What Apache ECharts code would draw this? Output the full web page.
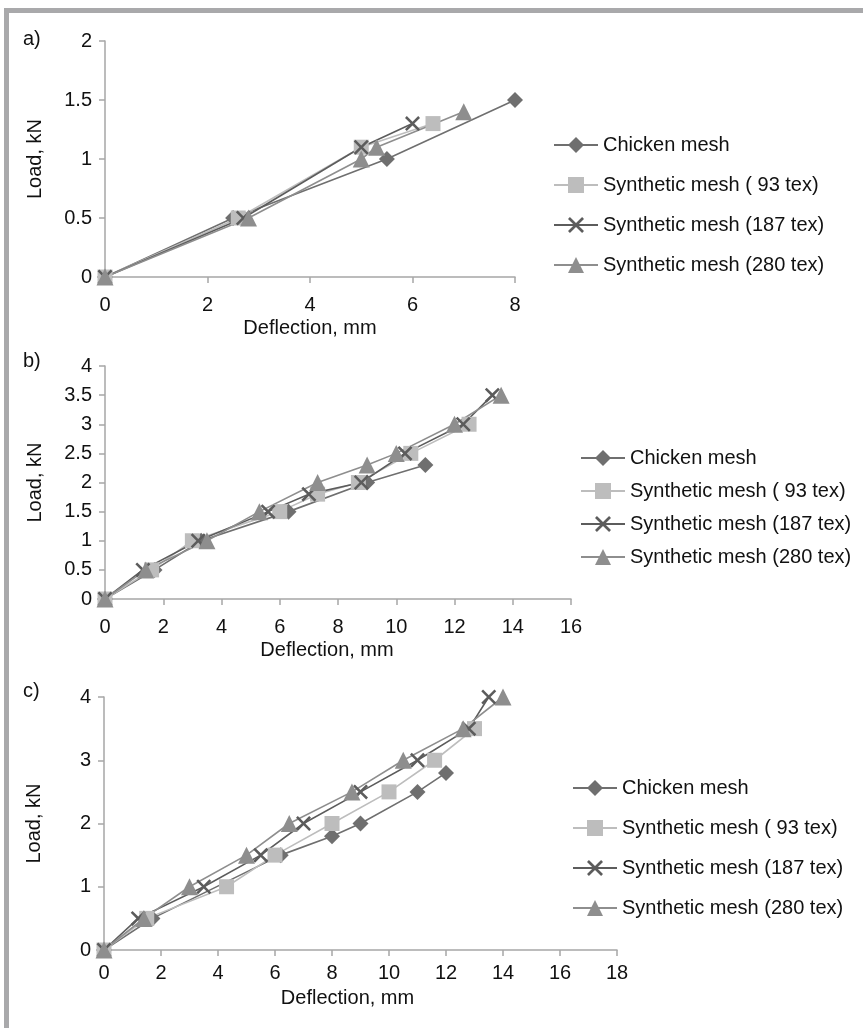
<!DOCTYPE html>
<html><head><meta charset="utf-8">
<script src="https://cdn.jsdelivr.net/npm/echarts@6/dist/echarts.min.js"></script>
<style>html,body{margin:0;padding:0;background:#fff}#c{width:863px;height:1028px}</style>
</head><body><div id="c"></div>
<script>
const seriesNames = ['Chicken mesh', 'Synthetic mesh ( 93 tex)', 'Synthetic mesh (187 tex)', 'Synthetic mesh (280 tex)'];
const panelLabels = ['a)', 'b)', 'c)'];
const xTitle = 'Deflection, mm';
const yTitle = 'Load, kN';

// panel a
const aChicken = [[0,0],[2.5,0.5],[5.5,1.0],[8,1.5]];
const aSyn93   = [[0,0],[2.6,0.5],[5,1.1],[6.4,1.3]];
const aSyn187  = [[0,0],[2.7,0.5],[5,1.1],[6,1.3]];
const aSyn280  = [[0,0],[2.8,0.5],[5,1.0],[5.3,1.1],[7,1.4]];
// panel b
const bChicken = [[0,0],[1.7,0.5],[3.3,1.0],[6.3,1.5],[9,2.0],[11,2.3]];
const bSyn93   = [[0,0],[1.6,0.5],[3,1.0],[6,1.5],[7.3,1.8],[8.7,2.0],[10.5,2.5],[12.5,3.0]];
const bSyn187  = [[0,0],[1.3,0.5],[3.2,1.0],[5.6,1.5],[7,1.8],[8.8,2.0],[10.3,2.5],[12.3,3.0],[13.3,3.5]];
const bSyn280  = [[0,0],[1.4,0.5],[3.5,1.0],[5.3,1.5],[7.3,2.0],[9,2.3],[10,2.5],[12,3.0],[13.6,3.5]];
// panel c
const cChicken = [[0,0],[1.7,0.5],[6.2,1.5],[8,1.8],[9,2.0],[11,2.5],[12,2.8]];
const cSyn93   = [[0,0],[1.5,0.5],[4.3,1.0],[6,1.5],[8,2.0],[10,2.5],[11.6,3.0],[13,3.5]];
const cSyn187  = [[0,0],[1.2,0.5],[3.5,1.0],[5.5,1.5],[7,2.0],[9,2.5],[11,3.0],[12.8,3.5],[13.5,4.0]];
const cSyn280  = [[0,0],[1.4,0.5],[3,1.0],[5,1.5],[6.5,2.0],[8.7,2.5],[10.5,3.0],[12.6,3.5],[14,4.0]];

const xRanges = [[0,8,2],[0,16,2],[0,18,2]];
const yRanges = [[0,2,0.5],[0,4,0.5],[0,4,1]];

const panelData = [
  [aChicken, aSyn93, aSyn187, aSyn280],
  [bChicken, bSyn93, bSyn187, bSyn280],
  [cChicken, cSyn93, cSyn187, cSyn280]
];

const FONT = '"Liberation Sans", Arial, sans-serif';
const colors = ['#6f6f6f', '#bdbdbd', '#5c5c5c', '#8e8e8e'];
const crossPath = 'path://M0,1.2L1.2,0L5,3.8L8.8,0L10,1.2L6.2,5L10,8.8L8.8,10L5,6.2L1.2,10L0,8.8L3.8,5Z';
const symbols = ['diamond', 'rect', crossPath, 'triangle'];
const symbolSizes = [16, 15, 15, 17];

const grids = [
  {left: 105, width: 410, top: 41, height: 236},
  {left: 105, width: 466, top: 366, height: 233},
  {left: 104, width: 513, top: 697, height: 253}
];
const xLabelMargin = [18, 18, 13];
const xNameGap = [41, 41, 38];
const xNamePad = [[0,0,0,0],[0,22,0,0],[0,26,0,0]];
const legendPos = [{left: 548, top: 130, gap: 20}, {left: 575, top: 443, gap: 13}, {left: 567, top: 773, gap: 20}];
const panelLabelY = [40, 362, 692];

const axisColor = '#a6a6a6';
const xAxes = [], yAxes = [], series = [], legends = [], graphics = [];
for (let p = 0; p < 3; p++) {
  xAxes.push({
    type: 'value', gridIndex: p, min: xRanges[p][0], max: xRanges[p][1], interval: xRanges[p][2],
    name: xTitle, nameLocation: 'middle', nameGap: xNameGap[p],
    nameTextStyle: {fontSize: 20, color: '#111', fontFamily: FONT, padding: xNamePad[p]},
    axisLine: {show: true, lineStyle: {color: axisColor, width: 1.5}},
    axisTick: {show: true, length: 6, lineStyle: {color: axisColor, width: 1.5}},
    axisLabel: {fontSize: 20, color: '#111', fontFamily: FONT, margin: xLabelMargin[p]},
    splitLine: {show: false}
  });
  yAxes.push({
    type: 'value', gridIndex: p, min: yRanges[p][0], max: yRanges[p][1], interval: yRanges[p][2],
    name: yTitle, nameLocation: 'middle', nameGap: 60,
    nameTextStyle: {fontSize: 20, color: '#111', fontFamily: FONT},
    axisLine: {show: true, lineStyle: {color: axisColor, width: 1.5}},
    axisTick: {show: true, length: 6, lineStyle: {color: axisColor, width: 1.5}},
    axisLabel: {fontSize: 20, color: '#111', fontFamily: FONT, margin: 13},
    splitLine: {show: false}
  });
  for (let s = 0; s < 4; s++) {
    series.push({
      type: 'line', name: seriesNames[s], xAxisIndex: p, yAxisIndex: p,
      data: panelData[p][s], symbol: symbols[s], symbolSize: symbolSizes[s],
      showAllSymbol: true,
      lineStyle: {color: colors[s], width: 1.6},
      itemStyle: {color: colors[s], borderWidth: 0},
      emphasis: {disabled: true}, animation: false
    });
  }
  legends.push({
    orient: 'vertical', left: legendPos[p].left, top: legendPos[p].top,
    data: seriesNames, itemWidth: 44, itemHeight: 20, itemGap: legendPos[p].gap,
    textStyle: {fontSize: 20, color: '#111', fontFamily: FONT, lineHeight: 20},
    selectedMode: false
  });
  graphics.push({
    type: 'text', left: 23, top: panelLabelY[p] - 11,
    style: {text: panelLabels[p], fontSize: 20, fill: '#111', fontFamily: FONT}
  });
}
graphics.push({type: 'rect', shape: {x: 4, y: 8, width: 859, height: 5}, style: {fill: '#a9a9ab'}});
graphics.push({type: 'rect', shape: {x: 4, y: 8, width: 5, height: 1020}, style: {fill: '#a9a9ab'}});

const chart = echarts.init(document.getElementById('c'), null, {renderer: 'canvas'});
chart.setOption({
  animation: false,
  backgroundColor: '#fff',
  grid: grids,
  xAxis: xAxes,
  yAxis: yAxes,
  legend: legends,
  series: series,
  graphic: graphics
});
</script></body></html>
